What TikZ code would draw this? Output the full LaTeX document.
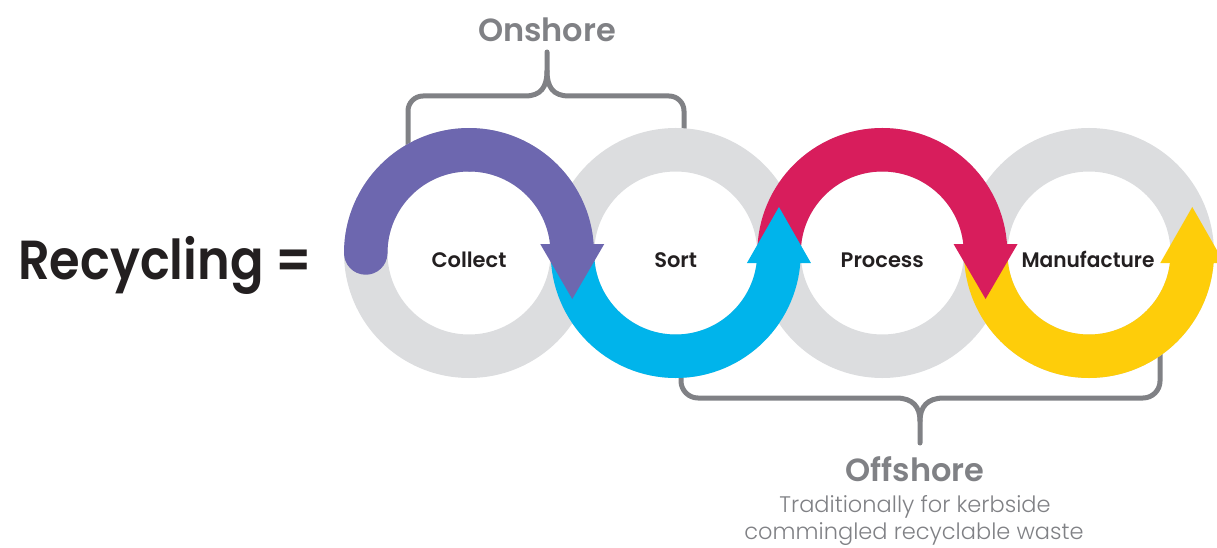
\documentclass[tikz,border=0pt]{standalone}
\usepackage{fontspec}
\setmainfont{Poppins}
\newfontfamily\popsb{Poppins SemiBold}
\newfontfamily\poplt{Poppins Light}
\definecolor{ringgray}{HTML}{DCDDDF}
\definecolor{cpurple}{HTML}{6D67AF}
\definecolor{ccyan}{HTML}{00B4EB}
\definecolor{cmag}{HTML}{D81D5C}
\definecolor{cyel}{HTML}{FECD0A}
\definecolor{bgray}{HTML}{808185}
\definecolor{tdark}{HTML}{231F20}
\begin{document}
\begin{tikzpicture}[x=1pt,y=1pt,
  ringbase/.style={draw=ringgray, line width=43.5pt},
  arcpart/.style={line width=43.5pt},
  brace/.style={draw=bgray, line width=5pt, line cap=round, line join=round},
  lbl/.style={inner sep=0pt, text=tdark, font=\popsb\fontsize{21}{25}\selectfont},
  bigtitle/.style={inner sep=0pt, text=tdark, font=\popsb\fontsize{55}{60}\selectfont},
  sidetitle/.style={inner sep=0pt, text=bgray, font=\popsb\fontsize{32}{38}\selectfont},
  subtext/.style={inner sep=0pt, text=bgray, align=center, font=\poplt\fontsize{22.5}{27}\selectfont}
]
\useasboundingbox (0,0) rectangle (1217,547);
\clip (0,0) rectangle (1217,547);

% centres
\coordinate (c1) at (469,294);
\coordinate (c2) at (675.7,294);
\coordinate (c3) at (882.3,294);
\coordinate (c4) at (1089,294);

% onshore brace (under rings)
\coordinate (onL) at (408,390);
\coordinate (onR) at (684,390);
\coordinate (onTip) at (547,495);
\draw[brace] (onL) -- (408,436) arc[start angle=180, end angle=90, radius=15pt] -- (525,451)
  .. controls (541,451) and (547,460) .. (547,476) -- (onTip);
\draw[brace] (onR) -- (684,436) arc[start angle=0, end angle=90, radius=15pt] -- (569,451)
  .. controls (553,451) and (547,460) .. (547,476);

% offshore brace (under rings)
\coordinate (offL) at (681,200);
\coordinate (offR) at (1160,200);
\coordinate (offTip) at (920,104);
\draw[brace] (offL) -- (681,166) arc[start angle=180, end angle=270, radius=17pt] -- (896,149)
  .. controls (913,149) and (920,140) .. (920,126) -- (offTip);
\draw[brace] (offR) -- (1160,166) arc[start angle=0, end angle=-90, radius=17pt] -- (944,149)
  .. controls (927,149) and (920,140) .. (920,126);

% gray rings
\foreach \c in {c1,c2,c3,c4}{
  \draw[ringbase] (\c) circle[radius=103.25pt];
}

% yellow (ring 4, bottom, arrow up)
\draw[arcpart, draw=cyel] (c4) ++(180:103.25pt) arc[start angle=180, end angle=360, radius=103.25pt];
\fill[cyel] (1160.25,284) -- (1224.25,284) -- (1192.25,340) -- cycle;

% magenta (ring 3, top, arrow down)
\draw[arcpart, draw=cmag] (c3) ++(180:103.25pt) arc[start angle=180, end angle=0, radius=103.25pt];
\fill[cmag] (953.55,303) -- (1017.55,303) -- (985.55,248) -- cycle;

% cyan (ring 2, bottom, arrow up)
\draw[arcpart, draw=ccyan] (c2) ++(180:103.25pt) arc[start angle=180, end angle=360, radius=103.25pt];
\fill[ccyan] (746.95,284) -- (810.95,284) -- (778.95,340) -- cycle;

% purple (ring 1, top, arrow down, round start)
\draw[arcpart, draw=cpurple, line cap=round] (c1) ++(180:103.25pt) arc[start angle=180, end angle=90, radius=103.25pt];
\draw[arcpart, draw=cpurple] (c1) ++(90:103.25pt) arc[start angle=90, end angle=0, radius=103.25pt];
\fill[cpurple] (540.25,303) -- (604.25,303) -- (572.25,248) -- cycle;

% labels
\node[lbl, anchor=base] (tcollect) at (469,279.5) {Collect};
\node[lbl, anchor=base] (tsort) at (675.7,279.5) {Sort};
\node[lbl, anchor=base] (tprocess) at (882.3,279.5) {Process};
\node[lbl, anchor=base, xscale=0.96] (tmanu) at (1088,279.5) {Manufacture};

\node[bigtitle, anchor=base west, xscale=0.9] (title) at (18,268) {Recycling =};
\node[sidetitle, anchor=base] (onshore) at (547,505) {Onshore};
\node[sidetitle, anchor=base] (offshore) at (915,66) {Offshore};
\node[subtext, anchor=base] (sub1) at (915,35) {Traditionally for kerbside};
\node[subtext, anchor=base] (sub2) at (914,8) {commingled recyclable waste};
\end{tikzpicture}
\end{document}
